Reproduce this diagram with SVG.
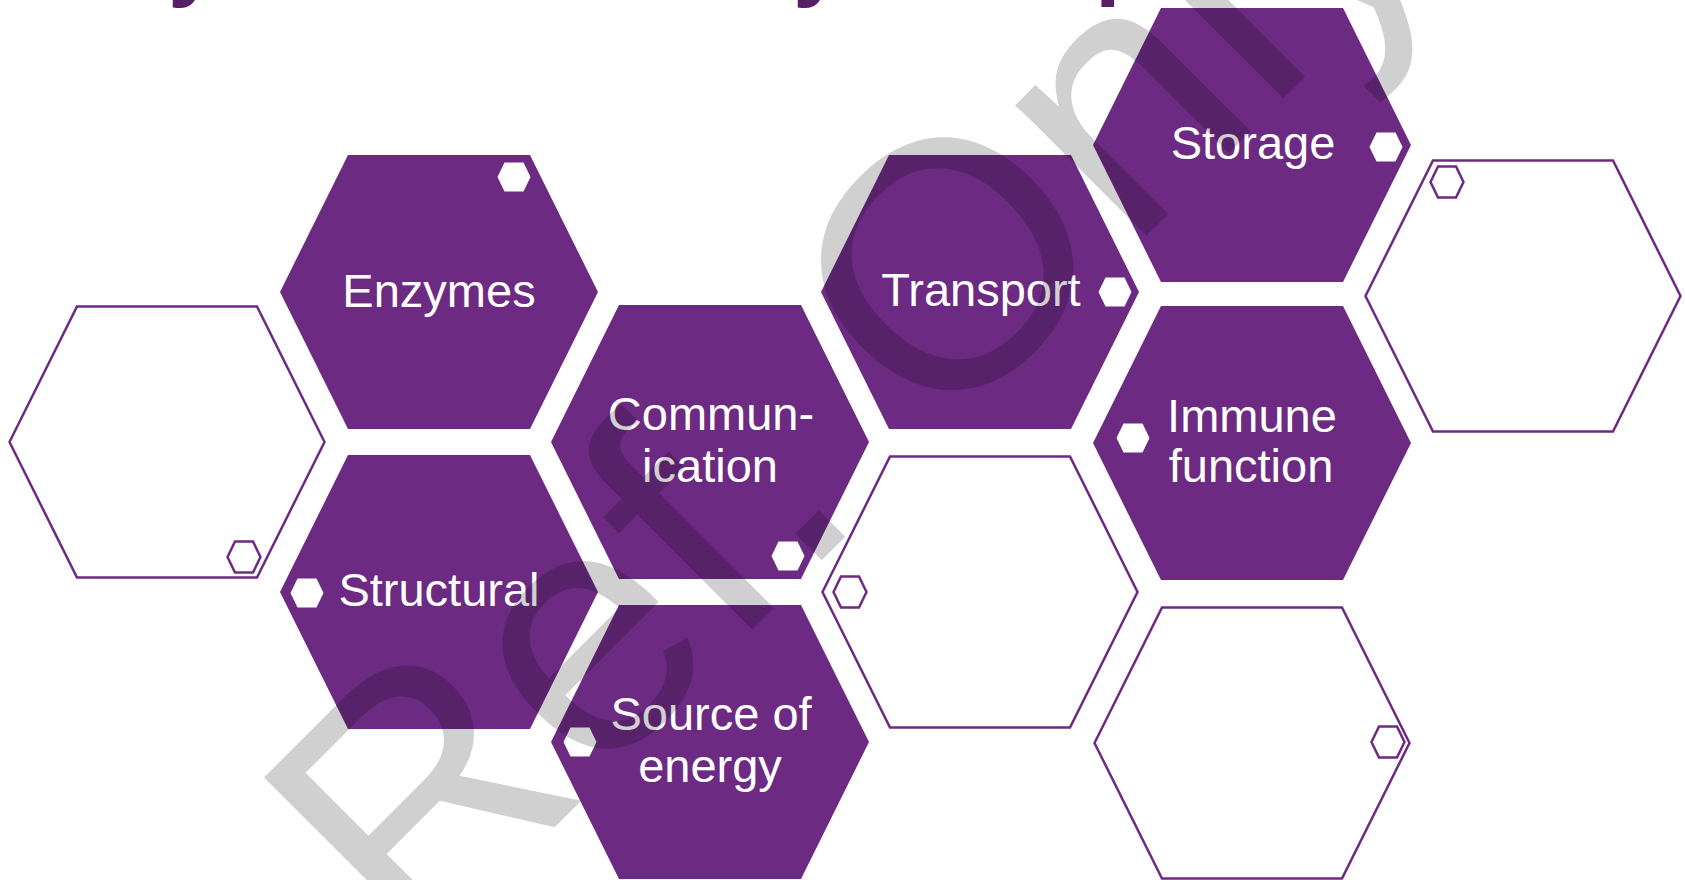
<svg xmlns="http://www.w3.org/2000/svg" xmlns:xlink="http://www.w3.org/1999/xlink" width="1685" height="880" viewBox="0 0 1685 880">
<style>
.fill{fill:#6D2A82;}
.out{fill:#fff;stroke:#6D2A82;stroke-width:2.5;}
.dot{fill:#fff;}
.odot{fill:#fff;stroke:#6D2A82;stroke-width:2.5;}
.lbl{font-family:"Liberation Sans",Arial,sans-serif;font-size:47px;fill:#fff;text-anchor:middle;}
.ttl{font-family:"Liberation Sans",Arial,sans-serif;font-size:92px;font-weight:bold;fill:#581F66;}
.wm{font-family:"Liberation Sans",Arial,sans-serif;font-size:350px;fill:#000;fill-opacity:0.185;}
</style>
<defs>
<polygon id="hex" points="-159,0 -91,-137 91,-137 159,0 91,137 -91,137"/>
<polygon id="ohex" points="-157.5,0 -90,-135.5 90,-135.5 157.5,0 90,135.5 -90,135.5"/>
<polygon id="sh" points="-16.5,0 -9.5,-14.5 9.5,-14.5 16.5,0 9.5,14.5 -9.5,14.5"/>
<polygon id="osh" points="-16.5,0 -9,-15.5 9,-15.5 16.5,0 9,15.5 -9,15.5"/>
</defs>
<rect width="1685" height="880" fill="#fff"/>
<g id="title">
<text class="ttl" x="168" y="-11">y</text>
<text class="ttl" x="793" y="-11">y</text>
<text class="ttl" x="1095" y="-12">p</text>
</g>
<g id="node-left-empty">
<use xlink:href="#ohex" class="out" x="167" y="442"/>
<use xlink:href="#osh" class="odot" x="244" y="557"/>
</g>
<g id="node-enzymes">
<use xlink:href="#hex" class="fill" x="439" y="292"/>
<use xlink:href="#sh" class="dot" x="514" y="177"/>
<text class="lbl" x="439" y="307">Enzymes</text>
</g>
<g id="node-structural">
<use xlink:href="#hex" class="fill" x="439" y="592"/>
<use xlink:href="#sh" class="dot" x="307" y="593"/>
<text class="lbl" x="439" y="606">Structural</text>
</g>
<g id="node-communication">
<use xlink:href="#hex" class="fill" x="710" y="442"/>
<use xlink:href="#sh" class="dot" x="788" y="556"/>
<text class="lbl" x="711" y="430">Commun-</text>
<text class="lbl" x="710" y="482">ication</text>
</g>
<g id="node-source-of-energy">
<use xlink:href="#hex" class="fill" x="710" y="742"/>
<use xlink:href="#sh" class="dot" x="580" y="742"/>
<text class="lbl" x="711" y="730">Source of</text>
<text class="lbl" x="710" y="782">energy</text>
</g>
<g id="node-transport">
<use xlink:href="#hex" class="fill" x="980" y="292"/>
<use xlink:href="#sh" class="dot" x="1115" y="292"/>
<text class="lbl" x="981" y="306">Transport</text>
</g>
<g id="node-middle-empty">
<use xlink:href="#ohex" class="out" x="980" y="592"/>
<use xlink:href="#osh" class="odot" x="850" y="592"/>
</g>
<g id="node-storage">
<use xlink:href="#hex" class="fill" x="1252" y="145"/>
<use xlink:href="#sh" class="dot" x="1386" y="147"/>
<text class="lbl" x="1253" y="159">Storage</text>
</g>
<g id="node-immune-function">
<use xlink:href="#hex" class="fill" x="1252" y="443"/>
<use xlink:href="#sh" class="dot" x="1133" y="438"/>
<text class="lbl" x="1252" y="432">Immune</text>
<text class="lbl" x="1251" y="482">function</text>
</g>
<g id="node-bottom-right-empty">
<use xlink:href="#ohex" class="out" x="1252" y="743"/>
<use xlink:href="#osh" class="odot" x="1388" y="742"/>
</g>
<g id="node-top-right-empty">
<use xlink:href="#ohex" class="out" x="1523" y="296"/>
<use xlink:href="#osh" class="odot" x="1447" y="182"/>
</g>
<g id="connectors"></g>
<g id="watermark">
<text class="wm" transform="translate(414,968) rotate(-45)">Ref. Only</text>
</g>
</svg>
